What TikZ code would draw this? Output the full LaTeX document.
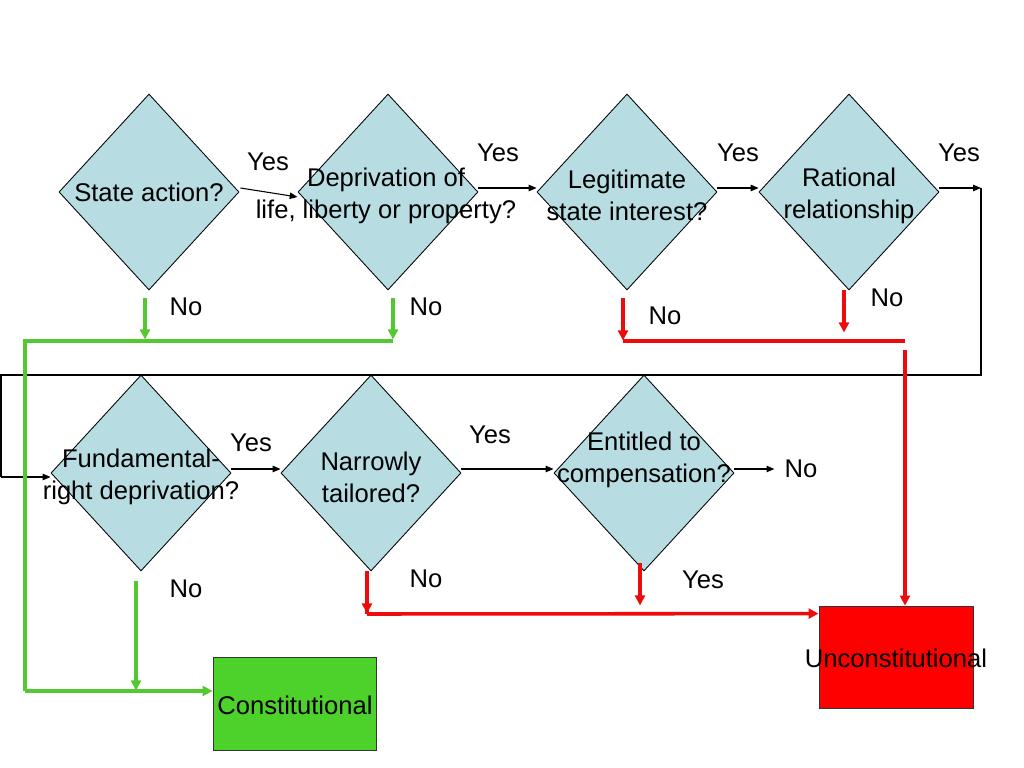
\documentclass[tikz,border=0pt]{standalone}
\usepackage{fontspec}
\setmainfont{Liberation Sans}
\usetikzlibrary{shapes.geometric,arrows.meta,calc}
\definecolor{diafill}{RGB}{183,221,226}
\definecolor{boxgreen}{RGB}{76,210,42}
\definecolor{linegreen}{RGB}{84,200,48}
\definecolor{linered}{RGB}{236,12,12}
\begin{document}
\begin{tikzpicture}[x=0.703125pt,y=-0.703125pt,
  every node/.style={font=\fontsize{18}{22.4}\selectfont},
  dia/.style={shape=diamond,draw=black,line width=0.6pt,fill=diafill,inner sep=0pt,
    minimum width=126.6pt,minimum height=137.8pt},
  txt/.style={align=center,inner sep=0pt},
  lbl/.style={inner sep=0pt},
  outbox/.style={draw=black!80,line width=0.6pt,inner sep=0pt},
  blk/.style={draw=black,line width=0.75pt,-{Triangle[length=5.5pt,width=4.5pt]}},
  blkline/.style={draw=black,line width=0.75pt},
  grn/.style={draw=linegreen,line width=2.5pt,-{Triangle[length=7pt,width=7pt]}},
  grnline/.style={draw=linegreen,line width=2.5pt},
  rd/.style={draw=linered,line width=2.5pt,-{Triangle[length=7pt,width=7pt]}},
  rdline/.style={draw=linered,line width=2.5pt}]
\useasboundingbox[fill=white] (0,0) rectangle (1024,768);

% diamonds
\node[dia] (d1) at (149,192) {};
\node[dia] (d2) at (388,192) {};
\node[dia] (d3) at (627,192) {};
\node[dia] (d4) at (849,192) {};
\node[dia] (d5) at (141,473) {};
\node[dia] (d6) at (371,473) {};
\node[dia] (d7) at (644,473) {};

% diamond texts
\node[txt] (t1) at (149,192) {State action?};
\node[txt] (t2) at (386,196) {Deprivation of\\life, liberty or property?};
\node[txt] (t3) at (627,195) {Legitimate\\state interest?};
\node[txt] (t4) at (849,196) {Rational\\relationship};
\node[txt] (t5) at (141,477) {Fundamental-\\right deprivation?};
\node[txt] (t6) at (371,477) {Narrowly\\tailored?};
\node[txt] (t7) at (644,460) {Entitled to\\compensation?};

% outcome boxes
\node[outbox,fill=boxgreen,minimum width=114.6pt,minimum height=65.4pt] (cons) at (294.5,703.5) {};
\node[lbl] (tcons) at (295,705) {Constitutional};
\node[outbox,fill=red,minimum width=108.3pt,minimum height=71.7pt] (unc) at (896,657) {};
\node[lbl] (tunc) at (896,658) {Unconstitutional};

% labels
\node[lbl] (y1) at (268,162) {Yes};
\node[lbl] (y2) at (498,153) {Yes};
\node[lbl] (y3) at (738,153) {Yes};
\node[lbl] (y4) at (959,153) {Yes};
\node[lbl] (y5) at (251,443) {Yes};
\node[lbl] (y6) at (490,435) {Yes};
\node[lbl] (y7) at (703,580) {Yes};
\node[lbl] (n1) at (186,307) {No};
\node[lbl] (n2) at (426,307) {No};
\node[lbl] (n3) at (665,316) {No};
\node[lbl] (n4) at (887,298) {No};
\node[lbl] (n5) at (186,589) {No};
\node[lbl] (n6) at (426,579) {No};
\node[lbl] (n7) at (801,469) {No};

% black connectors
\draw[blk] ($(d1.east)+(1,-4)$) -- ($(d2.west)+(0,5)$);
\draw[blk] ($(d2.east)+(0,-4)$) -- ($(d3.west)+(0,-4)$);
\draw[blk] ($(d3.east)+(0,-4)$) -- ($(d4.west)+(0,-4)$);
\coordinate (c1) at (981,188);
\coordinate (c2) at (981,375);
\coordinate (c3) at (1,375);
\coordinate (c4) at (1,477);
\draw[blk] ($(d4.east)+(0,-4)$) -- (c1);
\draw[blkline] (c1) -- (c2) -- (c3) -- (c4);
\draw[blk] (c4) -- ($(d5.west)+(0,4)$);
\draw[blk] ($(d5.east)+(0,-4)$) -- ($(d6.west)+(0,-4)$);
\draw[blk] ($(d6.east)+(0,-4)$) -- ($(d7.west)+(0,-4)$);
\draw[blk] ($(d7.east)+(0,-4)$) -- ($(n7.west)+(-10,0)$);

% green connectors
\coordinate (g1) at (393,341);
\coordinate (g2) at (25,341);
\coordinate (g3) at (25,691);
\draw[grn] ($(d1.south)+(-4,8)$) -- ($(d1.south)+(-4,49)$);
\draw[grn] ($(d2.south)+(5,8)$) -- ($(d2.south)+(5,49)$);
\draw[grnline] (g1) -- (g2) -- (g3);
\draw[grn] (g3) -- ($(cons.west)+(0,-12.5)$);
\draw[grn] ($(d5.south)+(-5,10)$) -- ($(d5.south)+(-5,119)$);

% red connectors
\coordinate (r1) at (623,341);
\coordinate (r2) at (905,341);
\coordinate (r3) at (905,350);
\coordinate (r4) at (367,614);
\draw[rd] ($(d3.south)+(-4,8)$) -- ($(d3.south)+(-4,50)$);
\draw[rdline] (r1) -- (r2);
\draw[rd] ($(d4.south)+(-5,0)$) -- ($(d4.south)+(-5,42)$);
\draw[rd] (r3) -- ($(unc.north)+(9,0)$);
\draw[rdline] ($(d6.south)+(-4,0)$) -- (r4);
\draw[rd] ($(d6.south)+(-4,0)$) -- ($(d6.south)+(-4,42)$);
\draw[rd] (r4) -- ($(unc.north west)+(0,8)$);
\draw[rd] ($(d7.south)+(-4,-8)$) -- ($(d7.south)+(-4,34)$);
\end{tikzpicture}
\end{document}
